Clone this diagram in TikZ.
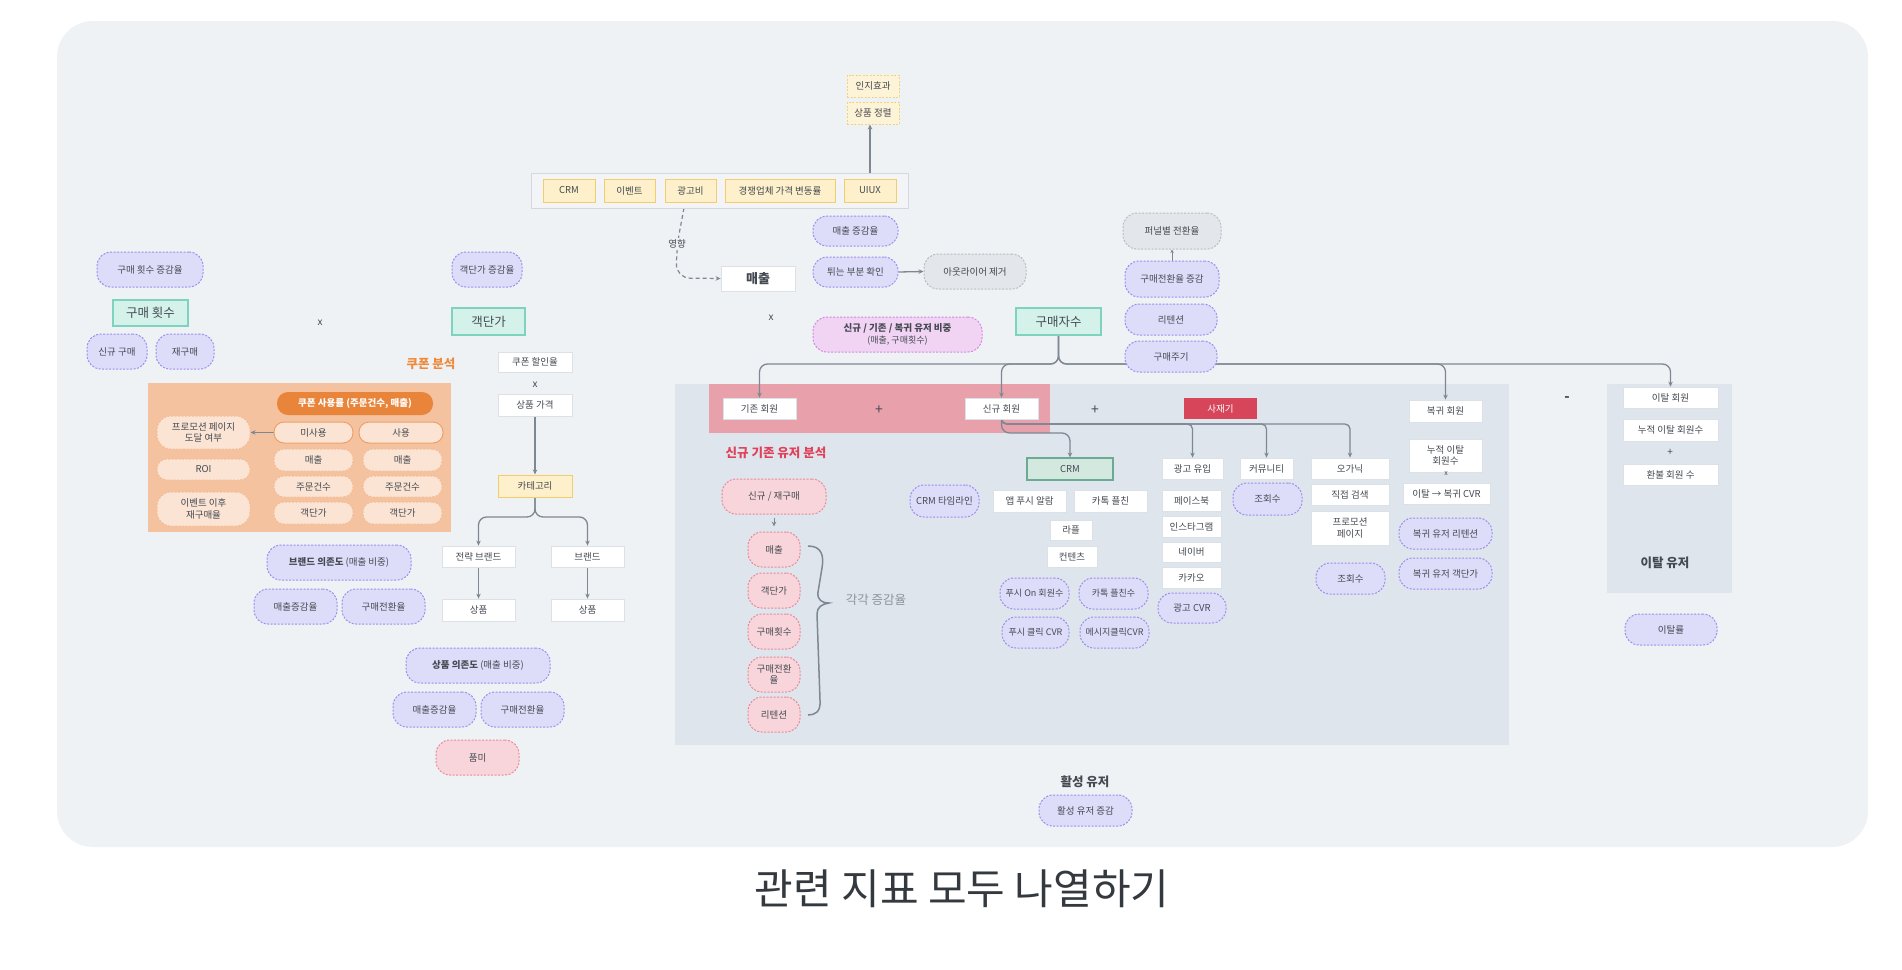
\documentclass[tikz,border=0pt]{standalone}
\usepackage{fontspec}
\setmainfont{Noto Sans CJK KR}
\usetikzlibrary{arrows.meta}
\pgfdeclarelayer{bgA}\pgfdeclarelayer{bgB}\pgfsetlayers{bgA,bgB,main}
\definecolor{bgc}{HTML}{EFF2F5}
\definecolor{area}{HTML}{DFE5EC}
\definecolor{pinkarea}{HTML}{E8A0AA}
\definecolor{txt}{HTML}{454A52}
\definecolor{wbd}{HTML}{DCE1E7}
\definecolor{yfill}{HTML}{FDF0CB}
\definecolor{ybd}{HTML}{F3CD6A}
\definecolor{ydfill}{HTML}{FDF3D6}
\definecolor{ydbd}{HTML}{F3D27E}
\definecolor{tfill}{HTML}{D4F1EA}
\definecolor{tbd}{HTML}{7DD3BE}
\definecolor{cfill}{HTML}{D3E9E0}
\definecolor{cbd}{HTML}{6BAA93}
\definecolor{pfill}{HTML}{DDDDFA}
\definecolor{pbd}{HTML}{9C8EEE}
\definecolor{kfill}{HTML}{F7D5DA}
\definecolor{kbd}{HTML}{E98A9B}
\definecolor{gfill}{HTML}{E3E6EA}
\definecolor{gbd}{HTML}{B8BDC5}
\definecolor{mfill}{HTML}{F1D3F4}
\definecolor{mbd}{HTML}{D487E4}
\definecolor{orarea}{HTML}{F4C29F}
\definecolor{opfill}{HTML}{E9843B}
\definecolor{osfill}{HTML}{FBE4D4}
\definecolor{osbd}{HTML}{EFA06A}
\definecolor{redbx}{HTML}{D6455A}
\definecolor{ortext}{HTML}{EE8A3A}
\definecolor{redtext}{HTML}{E0405A}
\definecolor{lc}{HTML}{7D8893}
\definecolor{grpfill}{HTML}{F2F4F7}
\definecolor{grpbd}{HTML}{D3D8DE}
\definecolor{captc}{HTML}{33393F}
\newcommand\bx[7]{\node[#1,minimum width={#5pt-#3pt},minimum height={#6pt-#4pt}] (#2) at ({(#3+#5)/2},{(#4+#6)/2}) {#7};}
\tikzset{
  base/.style={inner sep=1pt, align=center, text=txt, font=\fontsize{9.5}{11.5}\selectfont},
  wbox/.style={base, draw=wbd, fill=white, line width=0.8pt},
  ybox/.style={base, draw=ybd, fill=yfill, line width=1pt},
  yd/.style={base, draw=ydbd, fill=ydfill, line width=1pt, dash pattern=on 2pt off 1.5pt},
  grp/.style={draw=grpbd, fill=grpfill, line width=1pt, inner sep=0pt},
  tbox/.style={base, draw=tbd, fill=tfill, line width=1.2pt, font=\fontsize{12.5}{15}\selectfont},
  cbox/.style={base, draw=cbd, fill=cfill, line width=1.2pt},
  redbox/.style={base, fill=redbx, text=white},
  pill/.style={base, rounded corners=14pt, line width=1pt, dash pattern=on 2pt off 1.5pt},
  pp/.style={pill, draw=pbd, fill=pfill},
  pk/.style={pill, draw=kbd, fill=kfill},
  gp/.style={pill, draw=gbd, fill=gfill},
  mp/.style={pill, draw=mbd, fill=mfill},
  op/.style={base, rounded corners=10pt, line width=1pt, dash pattern=on 2pt off 1.5pt, draw=osbd!70, fill=osfill},
  os/.style={base, rounded corners=10pt, line width=1pt, draw=osbd, fill=osfill},
  opill/.style={base, rounded corners=11pt, fill=opfill, text=white, font=\fontsize{9.5}{11.5}\selectfont\bfseries},
  conn/.style={draw=lc, line width=1.3pt, -{Stealth[length=5pt,width=4.5pt]}},
  tree/.style={conn, rounded corners=8pt},
  lbl/.style={text=txt, inner sep=0pt},
}
\begin{document}
\begin{tikzpicture}[x=1pt,y=-1pt]
\useasboundingbox (0,0) rectangle (1902,969);
\begin{pgfonlayer}{bgA}
\fill[white] (0,0) rectangle (1902,969);
\fill[bgc, rounded corners=36pt] (57,21) rectangle (1868,847);
\fill[area] (675,384) rectangle (1509,745);
\fill[pinkarea] (709,384) rectangle (1050,433);
\fill[area] (1607,384) rectangle (1732,593);
\fill[orarea] (148,383) rectangle (451,532);
\end{pgfonlayer}

% ---- top ----
\bx{yd}{ij}{847}{75}{899}{97}{인지효과}
\bx{yd}{sj}{847}{102}{899}{124}{상품 정렬}
\bx{grp}{grpbox}{531}{173}{908}{208}{}
\bx{ybox}{gcrm}{543}{179}{595}{202}{CRM}
\bx{ybox}{gev}{604}{179}{655}{202}{이벤트}
\bx{ybox}{gad}{665}{179}{716}{202}{광고비}
\bx{ybox}{gcp}{725}{179}{835}{202}{경쟁업체 가격 변동률}
\bx{ybox}{gui}{844}{179}{896}{202}{UIUX}
\bx{wbox, font=\fontsize{13}{15}\selectfont\bfseries}{mae}{721}{266}{795}{291}{매출}
\bx{pp}{mgr}{813}{216}{898}{246}{매출 증감율}
\bx{pp}{twi}{813}{257}{898}{287}{튀는 부분 확인}
\bx{gp}{out}{924}{254}{1026}{289}{아웃라이어 제거}
\bx{mp}{ratio}{813}{317}{982}{352}{\textbf{신규 / 기존 / 복귀 유저 비중}\\{\fontsize{9}{11}\selectfont (매출, 구매횟수)}}
\bx{tbox}{gms}{1016}{308}{1101}{335}{구매자수}
\bx{gp}{funnel}{1123}{213}{1221}{249}{퍼널별 전환율}
\bx{pp}{cvr}{1125}{261}{1219}{297}{구매전환율 증감}
\bx{pp}{ret}{1125}{304}{1217}{335}{리텐션}
\bx{pp}{cyc}{1125}{341}{1217}{372}{구매주기}
\node[lbl, font=\fontsize{10}{12}\selectfont] (x2) at (771,318) {x};

% ---- left ----
\bx{pp}{bcg}{97}{252}{203}{287}{구매 횟수 증감율}
\bx{tbox}{bc}{113}{300}{188}{326}{구매 횟수}
\bx{pp}{nb}{87}{334}{147}{369}{신규 구매}
\bx{pp}{rb}{156}{334}{214}{369}{재구매}
\node[lbl, font=\fontsize{10}{12}\selectfont] (x1) at (320,323) {x};
\bx{pp}{aovg}{452}{252}{522}{287}{객단가 증감율}
\bx{tbox}{aov}{452}{308}{525}{335}{객단가}
\node[text=ortext, font=\fontsize{12.5}{15}\selectfont\bfseries, inner sep=0pt] (cpa) at (431,364) {쿠폰 분석};
\bx{wbox}{cpr}{498}{352}{572}{372}{쿠폰 할인율}
\node[lbl, font=\fontsize{10}{12}\selectfont] (x3) at (535,385) {x};
\bx{wbox}{ppr}{498}{394}{572}{416}{상품 가격}
\bx{ybox}{cat}{498}{475}{572}{497}{카테고리}
\bx{wbox}{sb}{442}{546}{515}{567}{전략 브랜드}
\bx{wbox}{br}{551}{546}{624}{567}{브랜드}
\bx{wbox}{pa}{442}{599}{515}{621}{상품}
\bx{wbox}{pb}{551}{599}{624}{621}{상품}
\bx{pp}{bdep}{267}{545}{411}{580}{\textbf{브랜드 의존도} (매출 비중)}
\bx{pp}{bga}{254}{589}{337}{624}{매출증감율}
\bx{pp}{bgb}{342}{589}{425}{624}{구매전환율}
\bx{pp}{pdep}{406}{648}{550}{683}{\textbf{상품 의존도} (매출 비중)}
\bx{pp}{pga}{393}{692}{476}{727}{매출증감율}
\bx{pp}{pgb}{481}{692}{564}{727}{구매전환율}
\bx{pk}{pm}{436}{740}{519}{775}{품미}

% coupon panel
\bx{opill}{cu}{277}{392}{433}{415}{쿠폰 사용률 (주문건수, 매출)}
\bx{os}{unu}{274}{422}{353}{443}{미사용}
\bx{os}{use}{359}{422}{443}{443}{사용}
\bx{op}{ma}{274}{449}{353}{471}{매출}
\bx{op}{mb}{363}{449}{442}{471}{매출}
\bx{op}{oa}{274}{476}{353}{497}{주문건수}
\bx{op}{ob}{363}{476}{442}{497}{주문건수}
\bx{op}{aa}{274}{502}{353}{524}{객단가}
\bx{op}{ab}{363}{502}{442}{524}{객단가}
\bx{op, rounded corners=14pt}{promo}{157}{416}{250}{449}{프로모션 페이지\\도달 여부}
\bx{op}{roi}{157}{459}{250}{480}{ROI}
\bx{op, rounded corners=14pt}{evt}{157}{492}{250}{526}{이벤트 이후\\재구매율}

% ---- active users ----
\bx{wbox}{giz}{723}{398}{796}{419}{기존 회원}
\node[lbl, font=\fontsize{14}{16}\selectfont] (pl1) at (879,410) {+};
\bx{wbox}{sg}{965}{398}{1038}{419}{신규 회원}
\node[lbl, font=\fontsize{14}{16}\selectfont] (pl2) at (1095,410) {+};
\bx{redbox}{sjg}{1184}{398}{1257}{419}{사재기}
\bx{wbox}{bg}{1409}{400}{1482}{422}{복귀 회원}
\node[lbl, font=\fontsize{14}{16}\selectfont\bfseries] (mi) at (1567,399) {-};
\node[text=redtext, font=\fontsize{12.5}{15}\selectfont\bfseries, inner sep=0pt] (nga) at (776,453) {신규 기존 유저 분석};
\bx{pk}{nr}{722}{479}{826}{514}{신규 / 재구매}
\bx{pk}{ka}{748}{532}{800}{567}{매출}
\bx{pk}{kb}{748}{573}{800}{608}{객단가}
\bx{pk}{kc}{748}{614}{800}{649}{구매횟수}
\bx{pk, font=\fontsize{9.5}{10.5}\selectfont}{kd}{748}{657}{800}{692}{구매전환\\율}
\bx{pk}{ke}{748}{697}{800}{732}{리텐션}
\node[text=lc!90, font=\fontsize{12.5}{15}\selectfont, inner sep=0pt] (each) at (876,600) {각각 증감율};
\bx{pp}{crmt}{910}{485}{979}{517}{CRM 타임라인}
\bx{cbox}{crm}{1027}{458}{1113}{480}{CRM}
\bx{wbox}{push}{993}{490}{1066}{512}{앱 푸시 알람}
\bx{wbox}{kak}{1074}{490}{1147}{512}{카톡 플친}
\bx{wbox}{rapl}{1050}{520}{1092}{540}{라플}
\bx{wbox}{cont}{1047}{546}{1097}{567}{컨텐츠}
\bx{pp, font=\fontsize{9}{11}\selectfont}{pon}{1000}{578}{1069}{609}{푸시 On 회원수}
\bx{pp, font=\fontsize{9}{11}\selectfont}{kfc}{1079}{578}{1148}{609}{카톡 플친수}
\bx{pp, font=\fontsize{9}{11}\selectfont}{pcv}{1002}{617}{1069}{648}{푸시 클릭 CVR}
\bx{pp, font=\fontsize{9}{11}\selectfont}{mcv}{1080}{617}{1149}{648}{메시지클릭CVR}
\bx{wbox}{adin}{1162}{458}{1223}{479}{광고 유입}
\bx{wbox}{fb}{1162}{490}{1221}{511}{페이스북}
\bx{wbox}{ig}{1162}{516}{1221}{537}{인스타그램}
\bx{wbox}{nv}{1162}{542}{1221}{562}{네이버}
\bx{wbox}{kk}{1162}{567}{1221}{588}{카카오}
\bx{pp}{adcvr}{1158}{593}{1226}{623}{광고 CVR}
\bx{wbox}{comm}{1240}{458}{1293}{479}{커뮤니티}
\bx{pp}{vwa}{1233}{483}{1302}{515}{조회수}
\bx{wbox}{org}{1311}{458}{1389}{479}{오가닉}
\bx{wbox}{ds}{1311}{484}{1389}{505}{직접 검색}
\bx{wbox}{prp}{1311}{511}{1389}{545}{프로모션\\페이지}
\bx{pp}{vwb}{1316}{563}{1385}{594}{조회수}
\bx{wbox}{cum}{1409}{439}{1482}{472}{누적 이탈\\회원수}
\node[lbl, font=\fontsize{7}{8}\selectfont] (x4) at (1446,474) {x};
\bx{wbox}{rcv}{1403}{483}{1490}{504}{이탈 → 복귀 CVR}
\bx{pp}{rret}{1399}{518}{1492}{549}{복귀 유저 리텐션}
\bx{pp}{raov}{1399}{558}{1492}{589}{복귀 유저 객단가}
\node[lbl, font=\fontsize{12.5}{15}\selectfont\bfseries] (act) at (1085,782) {활성 유저};
\bx{pp}{actg}{1039}{795}{1132}{826}{활성 유저 증감}

% ---- churn ----
\bx{wbox}{ith}{1623}{387}{1718}{408}{이탈 회원}
\bx{wbox}{cumi}{1623}{419}{1718}{441}{누적 이탈 회원수}
\node[lbl, font=\fontsize{10}{12}\selectfont] (pl3) at (1670,452) {+};
\bx{wbox}{ref}{1623}{464}{1718}{485}{환불 회원 수}
\node[lbl, font=\fontsize{12.5}{15}\selectfont\bfseries] (chu) at (1665,563) {이탈 유저};
\bx{pp}{churn}{1625}{614}{1717}{645}{이탈률}

% caption
\node[text=captc, font=\fontsize{42}{48}\selectfont, inner sep=0pt] (cap) at (962,889) {관련 지표 모두 나열하기};

% ---- connectors ----
\coordinate (dstart) at (684,208);
\coordinate (bus) at (0,364);
\coordinate (busa) at (0,424);
\coordinate (busb) at (0,433);
\coordinate (busc) at (0,517);
\begin{pgfonlayer}{bgB}
\draw[conn] (gui.north) -- (gui.north |- sj.south);
\draw[conn, line width=1.2pt, dash pattern=on 4pt off 3pt, rounded corners=14pt] (dstart) -- (677,245) -- (676,278) -- (mae.west);
\draw[conn] (twi.east) -- (out.west);
\draw[conn, -{Stealth[length=3.5pt,width=3.5pt]}, line width=1pt] (cvr.north) -- (funnel.south);
\draw[tree] (gms.south) |- (giz.north |- bus) -- (giz.north);
\draw[tree] (gms.south) |- (sg.north |- bus) -- (sg.north);
\draw[tree] (gms.south) |- (bg.north |- bus) -- (bg.north);
\draw[tree] (gms.south) |- (ith.north |- bus) -- (ith.north);
\draw[tree, rounded corners=5pt] (sg.south) |- (adin.north |- busa) -- (adin.north);
\draw[tree, rounded corners=5pt] (sg.south) |- (comm.north |- busa) -- (comm.north);
\draw[tree, rounded corners=5pt] (sg.south) |- (org.north |- busa) -- (org.north);
\draw[tree] (sg.south) |- (crm.north |- busb) -- (crm.north);
\draw[conn] (ppr.south) -- (cat.north);
\draw[tree] (cat.south) |- (sb.north |- busc) -- (sb.north);
\draw[tree] (cat.south) |- (br.north |- busc) -- (br.north);
\draw[conn] (sb.south) -- (pa.north);
\draw[conn] (br.south) -- (pb.north);
\draw[conn, line width=1pt] (unu.west) -- (promo.east);
\draw[conn, line width=1pt, shorten <=3pt, shorten >=5pt] (nr.south) -- (ka.north);
\end{pgfonlayer}
\node[fill=bgc, text=txt, inner sep=1.5pt, font=\fontsize{9.5}{11}\selectfont] (yh) at (677,244) {영향};
\draw[lc, line width=1.5pt] (808,546) .. controls (822,546) and (824,556) .. (822,568) -- (818,592) .. controls (817,600) and (822,603) .. (829,603) .. controls (822,604) and (817,607) .. (817,614) -- (820,700) .. controls (821,712) and (815,715) .. (808,715);
\end{tikzpicture}
\end{document}
